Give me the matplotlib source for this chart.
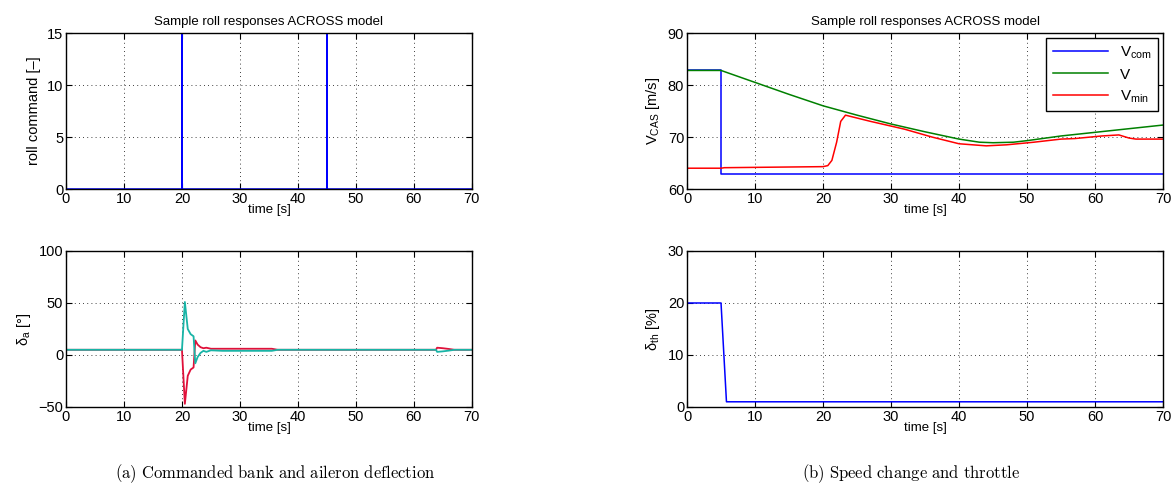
import matplotlib.pyplot as plt

plt.rcParams['font.family'] = ['Liberation Sans', 'DejaVu Sans']
plt.rcParams['mathtext.fontset'] = 'custom'
plt.rcParams['mathtext.rm'] = 'Liberation Sans'
plt.rcParams['mathtext.it'] = 'Liberation Sans:italic'

# roll command (spikes clipped by the axis limit)
t_roll = [0, 20, 20, 20, 45, 45, 45, 70]
roll_cmd = [0, 0, 30, 0, 0, 30, 0, 0]

# aileron deflections
t_ail = [0, 20, 20.5, 21, 21.5, 22, 22.3, 22.7, 23.2, 23.7, 24.2, 25, 27, 35.5, 36.5, 60, 63.8, 64, 65, 66, 67, 70]
ail_red = [5, 5, -47, -20, -14, -12, 14, 10, 7.5, 6.5, 7, 6, 6, 6, 5, 5, 5, 7, 6.5, 5.8, 5, 5]
ail_teal = [5, 5, 51, 25, 20, 18, -8, -2, 2, 4, 3, 4.5, 4, 4, 5, 5, 5, 3, 3.5, 4.2, 5, 5]

# speed
t_vcom = [0, 5, 5, 70]
v_com = [82.8, 82.8, 62.8, 62.8]
t_v = [0, 5, 10, 15, 20, 25, 30, 35, 40, 43, 45, 48, 50, 55, 60, 65, 70]
v = [82.8, 82.8, 80.5, 78.2, 76, 74.2, 72.5, 71, 69.6, 69.0, 68.9, 69.0, 69.3, 70.2, 70.9, 71.6, 72.3]
t_vmin = [0, 5, 5.5, 20, 20.7, 21.3, 22, 22.6, 23.3, 27, 32, 36, 40, 44, 47, 51, 55, 57, 61, 63.5, 65, 66, 70]
v_min = [64, 64, 64.1, 64.3, 64.5, 65.5, 69, 73, 74.2, 73, 71.5, 70, 68.7, 68.3, 68.5, 69, 69.6, 69.7, 70.2, 70.4, 69.8, 69.6, 69.6]

# throttle
t_th = [0, 5, 5.8, 70]
throttle = [20, 20, 1, 1]

fig = plt.figure(figsize=(11.76, 4.97), dpi=100)
ax1 = fig.add_axes([0.0561, 0.6197, 0.3452, 0.3139])
ax2 = fig.add_axes([0.0561, 0.1811, 0.3452, 0.3139])
ax3 = fig.add_axes([0.5842, 0.6197, 0.4048, 0.3139])
ax4 = fig.add_axes([0.5842, 0.1811, 0.4048, 0.3139])

title = 'Sample roll responses ACROSS model'

ax1.plot(t_roll, roll_cmd, color='#0000ff', lw=1.1)
ax1.set_ylim(0, 15)
ax1.set_yticks([0, 5, 10, 15])
ax1.set_ylabel('roll command [\u2013]')
ax1.set_title(title, fontsize=9.5)

ax2.plot(t_ail, ail_red, color='#e0103a', lw=1.3)
ax2.plot(t_ail, ail_teal, color='#18b4a6', lw=1.3)
ax2.set_ylim(-50, 100)
ax2.set_yticks([-50, 0, 50, 100])
ax2.set_ylabel(r'$\mathregular{\delta_a}$ [°]')

ax3.plot(t_vcom, v_com, color='#0000ff', lw=1.1, label=r'$\mathregular{V_{com}}$')
ax3.plot(t_v, v, color='#008000', lw=1.1, label='V')
ax3.plot(t_vmin, v_min, color='#ff0000', lw=1.1, label=r'$\mathregular{V_{min}}$')
ax3.set_ylim(60, 90)
ax3.set_yticks([60, 70, 80, 90])
ax3.set_ylabel(r'$\mathregular{V_{CAS}}$ [m/s]')
ax3.set_title(title, fontsize=9.5)
leg = ax3.legend(loc='upper right', fontsize=11, fancybox=False, framealpha=1,
                 edgecolor='black', borderaxespad=0.35, handlelength=3.6,
                 labelspacing=0.45, borderpad=0.4)
leg.get_frame().set_linewidth(1.0)

ax4.plot(t_th, throttle, color='#0000ff', lw=1.1)
ax4.set_ylim(0, 30)
ax4.set_yticks([0, 10, 20, 30])
ax4.set_ylabel(r'$\mathregular{\delta_{th}}$ [%]')

for ax in (ax1, ax2, ax3, ax4):
    ax.set_xlim(0, 70)
    ax.set_xticks(range(0, 71, 10))
    ax.set_xlabel('time [s]', fontsize=9.5, labelpad=-1)
    ax.yaxis.label.set_size(10.5)
    ax.grid(True, color='black', linestyle=(0, (1, 4)), linewidth=0.6)
    ax.tick_params(direction='in', top=True, right=True, labelsize=10.5, length=4, pad=2)
    for s in ax.spines.values():
        s.set_linewidth(1.0)

fig.text(0.234, 0.048, r'$\mathrm{(a)\ Commanded\ bank\ and\ aileron\ deflection}$',
         ha='center', va='center', fontsize=12, math_fontfamily='cm')
fig.text(0.775, 0.048, r'$\mathrm{(b)\ Speed\ change\ and\ throttle}$',
         ha='center', va='center', fontsize=12, math_fontfamily='cm')

fig.savefig('out.png', dpi=100)
